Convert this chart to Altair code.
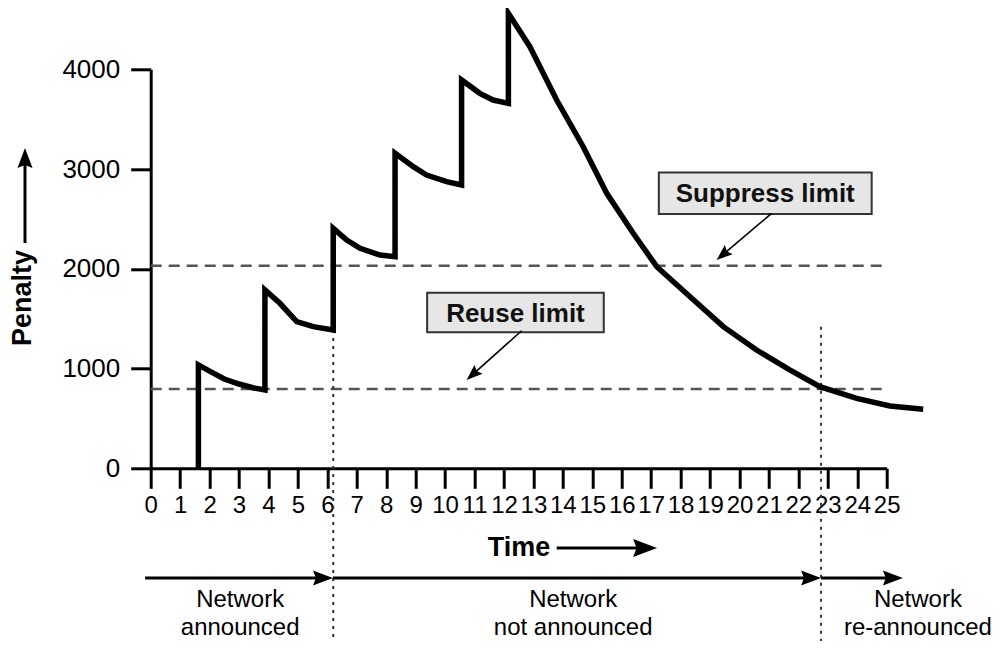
import math
import altair as alt
import pandas as pd

# ---------------- data ----------------
# main penalty curve, in drawing order (time, penalty)
curve_t = [1.62, 1.62, 2.0, 2.5, 3.0, 3.5, 3.88,
           3.88, 4.39, 4.96, 5.52, 6.2,
           6.2, 6.66, 7.11, 7.79, 8.3,
           8.3, 8.92, 9.37, 10.05, 10.56,
           10.56, 11.18, 11.63, 12.15,
           12.15, 12.88, 13.79, 14.69, 15.49, 16.39, 17.19, 18.32,
           19.45, 20.58, 21.72, 22.73, 23.98, 25.11, 26.24]
curve_v = [0, 1036, 975, 895, 845, 805, 785,
           1789, 1654, 1470, 1420, 1387,
           2406, 2289, 2205, 2138, 2121,
           3158, 3024, 2940, 2873, 2840,
           3893, 3759, 3692, 3659,
           4561, 4227, 3692, 3224, 2757, 2356, 2021, 1720,
           1420, 1186, 985, 818, 701, 624, 591]

x_ticks = list(range(0, 26))
y_ticks = [0, 1000, 2000, 3000, 4000]

# horizontal limit lines
limit_names = ["Suppress limit", "Reuse limit"]
limit_v = [2030, 795]
limit_t0 = [0, 0]
limit_t1 = [24.87, 24.87]

# labelled boxes
box_t0 = [17.26, 9.39]
box_t1 = [24.49, 15.39]
box_v0 = [2549, 1363]
box_v1 = [2965, 1760]

# callout arrows (start -> tip)
call_t0 = [21.09, 12.6]
call_v0 = [2556, 1379]
call_t1 = [19.22, 10.73]
call_v1 = [2088, 885]

# dotted phase separators
sep_t = [6.2, 22.77]
sep_top = [1387, 1420]
sep_bottom = [-1930, -1930]

# big arrows: penalty, time, and three phase arrows (start -> tip)
arr_t0 = [-4.27, 13.79, -0.19, 6.19, 22.77]
arr_v0 = [2258, -799, -1100, -1100, -1100]
arr_t1 = [-4.27, 17.2, 6.19, 22.77, 25.55]
arr_v1 = [3210, -799, -1100, -1100, -1100]
arr_len = [20, 24, 20, 20, 20]

# texts
bold_text = ["Penalty", "Time"]
bold_t = [-4.34, 12.51]
bold_v = [1707, -799]
bold_ang = [270, 0]

phase_line1 = ["Network", "Network", "Network"]
phase_line2 = ["announced", "not announced", "re-announced"]
phase_t = [3.04, 14.35, 26.06]
phase_v1 = [-1325, -1325, -1325]
phase_v2 = [-1600, -1600, -1600]

# ---------------- geometry helpers (styling only) ----------------
W, H = 736, 399
XD, YD = [0, 25], [0, 4000]
PX_T = W / (XD[1] - XD[0])
PX_V = H / (YD[1] - YD[0])


def heading(t0, v0, t1, v1):
    dx = (t1 - t0) * PX_T
    dy = -(v1 - v0) * PX_V
    return math.degrees(math.atan2(dx, -dy)) % 360, dx, dy


def pull_back(t0, v0, t1, v1, px):
    _, dx, dy = heading(t0, v0, t1, v1)
    L = math.hypot(dx, dy)
    return t1 - (dx / L) * px / PX_T, v1 + (dy / L) * px / PX_V


FONT = "Liberation Sans, Arial, Helvetica, sans-serif"
xs = alt.Scale(domain=XD, nice=False, zero=False)
ys = alt.Scale(domain=YD, nice=False, zero=False)
HEAD = "M0,0 L0.75,2 L0,1.7 L-0.75,2 Z"

# ---------------- tables ----------------
curve_df = pd.DataFrame({"t": curve_t, "v": curve_v, "i": range(len(curve_t))})
limit_df = pd.DataFrame({"name": limit_names, "v": limit_v, "t0": limit_t0, "t1": limit_t1})
box_df = pd.DataFrame({"name": limit_names, "t0": box_t0, "t1": box_t1, "v0": box_v0, "v1": box_v1})
box_df["tc"] = (box_df.t0 + box_df.t1) / 2
box_df["vc"] = (box_df.v0 + box_df.v1) / 2
sep_df = pd.DataFrame({"t": sep_t, "top": sep_top, "bot": sep_bottom})

shafts, heads = [], []
for a, b, c, d, ln in zip(arr_t0, arr_v0, arr_t1, arr_v1, arr_len):
    e_t, e_v = pull_back(a, b, c, d, ln * 0.6)
    shafts.append({"t0": a, "v0": b, "t1": e_t, "v1": e_v, "w": 3})
    heads.append({"t": c, "v": d, "ang": heading(a, b, c, d)[0], "size": ln * ln})
for a, b, c, d in zip(call_t0, call_v0, call_t1, call_v1):
    e_t, e_v = pull_back(a, b, c, d, 8)
    shafts.append({"t0": a, "v0": b, "t1": e_t, "v1": e_v, "w": 1.6})
    heads.append({"t": c, "v": d, "ang": heading(a, b, c, d)[0], "size": 16 * 16})
shaft_df = pd.DataFrame(shafts)
head_df = pd.DataFrame(heads)
bold_df = pd.DataFrame({"s": bold_text, "t": bold_t, "v": bold_v, "a": bold_ang})
phase_df = pd.DataFrame({"s": phase_line1 + phase_line2,
                         "t": phase_t + phase_t,
                         "v": phase_v1 + phase_v2})

# ---------------- layers ----------------
X_AXIS = alt.Axis(values=x_ticks, format="d", labelOverlap=False, labelFlush=False,
                  grid=False, tickSize=20, tickWidth=3, tickColor="black",
                  domainColor="black", domainWidth=3, labelFontSize=24,
                  labelFont=FONT, labelColor="black", labelPadding=5, title=None)
Y_AXIS = alt.Axis(values=y_ticks, format="d", grid=False, tickSize=20, tickWidth=3,
                  tickColor="black", domainColor="black", domainWidth=3,
                  labelFontSize=26, labelFont=FONT, labelColor="black",
                  labelPadding=11, title=None)


def X(field):
    return alt.X(field, scale=xs, title=None, axis=X_AXIS)


def Y(field):
    return alt.Y(field, scale=ys, title=None, axis=Y_AXIS)


main = alt.Chart(curve_df).mark_line(
    color="black", strokeWidth=5.5, strokeJoin="miter", strokeCap="butt"
).encode(x=X("t:Q"), y=Y("v:Q"), order="i:Q")

limits = alt.Chart(limit_df).mark_rule(color="#555555", strokeWidth=2.5, strokeDash=[11, 7]).encode(
    x=X("t0:Q"), x2="t1:Q", y=Y("v:Q"),
)

seps = alt.Chart(sep_df).mark_rule(color="#333333", strokeWidth=2, strokeDash=[3, 5]).encode(
    x=X("t:Q"), y=Y("top:Q"), y2="bot:Q",
)

boxes = alt.Chart(box_df).mark_rect(fill="#e6e6e6", stroke="#333333", strokeWidth=2).encode(
    x=X("t0:Q"), x2="t1:Q", y=Y("v0:Q"), y2="v1:Q",
)

box_text = alt.Chart(box_df).mark_text(
    font=FONT, fontSize=26, fontWeight="bold", color="#111111", baseline="middle", dy=1
).encode(x=X("tc:Q"), y=Y("vc:Q"), text="name:N")

shaft_layer = alt.Chart(shaft_df).mark_rule(color="black", strokeCap="butt").encode(
    x=X("t0:Q"), x2="t1:Q", y=Y("v0:Q"), y2="v1:Q",
    strokeWidth=alt.StrokeWidth("w:Q", scale=None),
)

head_layer = alt.Chart(head_df).mark_point(shape=HEAD, filled=True, color="black", opacity=1).encode(
    x=X("t:Q"), y=Y("v:Q"),
    angle=alt.Angle("ang:Q", scale=None),
    size=alt.Size("size:Q", scale=None),
)

bold_layer = alt.Chart(bold_df).mark_text(
    font=FONT, fontSize=27, fontWeight="bold", color="black", baseline="middle"
).encode(x=X("t:Q"), y=Y("v:Q"), text="s:N", angle=alt.Angle("a:Q", scale=None))

phase_layer = alt.Chart(phase_df).mark_text(
    font=FONT, fontSize=24, color="black", baseline="middle"
).encode(x=X("t:Q"), y=Y("v:Q"), text="s:N")

chart = alt.layer(
    limits, seps, main, boxes, box_text, shaft_layer, head_layer, bold_layer, phase_layer
).properties(
    width=W, height=H,
    autosize=alt.AutoSizeParams(type="none"),
    padding={"left": 142.7, "top": 61.3, "right": 113.3, "bottom": 173},
    background="white",
).configure_view(stroke=None)

chart.save("out.html", embed_options={"renderer": "svg", "actions": False})
